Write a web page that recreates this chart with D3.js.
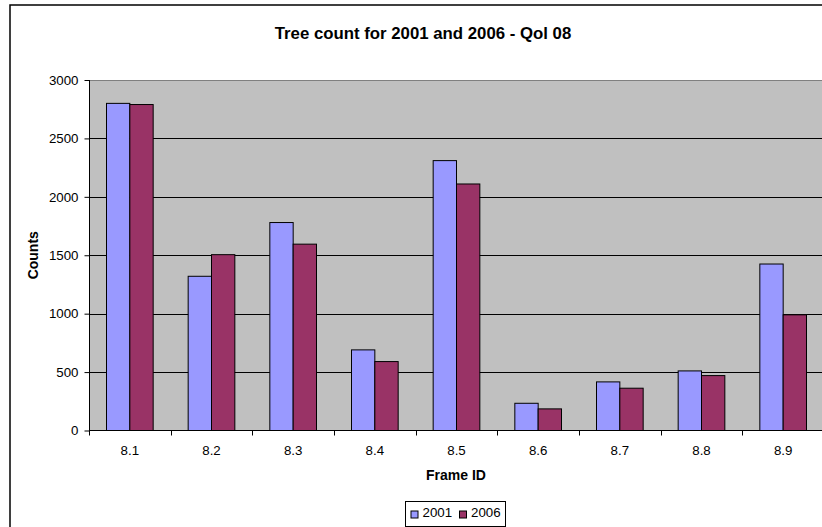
<!DOCTYPE html>
<html><head><meta charset="utf-8">
<script src="https://cdn.jsdelivr.net/npm/d3@7"></script>
<style>body{margin:0;background:#fff;}svg{display:block;font-family:"Liberation Sans",Arial,sans-serif;}</style>
</head><body>
<script>
const categories = ["8.1","8.2","8.3","8.4","8.5","8.6","8.7","8.8","8.9"];
const seriesNames = ["2001","2006"];
const values2001 = [2800,1320,1780,690,2310,233,416,510,1425];
const values2006 = [2790,1505,1595,590,2110,185,362,470,990];
const yTicks = [0,500,1000,1500,2000,2500,3000];
const colors = ["#9999FF","#993366"];

const W=822,H=527;
const svg=d3.select("body").append("svg").attr("width",W).attr("height",H);
// chart border
svg.append("rect").attr("x",10).attr("y",5).attr("width",840).attr("height",540)
  .attr("fill","#fff").attr("stroke","#000").attr("stroke-width",1.5);

const pL=89,pR=824,pT=80,pB=430.5;
const x=d3.scaleBand().domain(categories).range([pL,pR]);
const xs=d3.scaleBand().domain(seriesNames).range([0,x.bandwidth()]).paddingInner(0).paddingOuter(0.75);
const y=d3.scaleLinear().domain([0,3000]).range([pB,pT]);

svg.append("rect").attr("x",pL).attr("y",pT).attr("width",pR-pL).attr("height",pB-pT).attr("fill","#C0C0C0");
svg.append("line").attr("x1",pL).attr("x2",pR).attr("y1",pT+0.5).attr("y2",pT+0.5).attr("stroke","#808080");
svg.append("g").selectAll("line").data(yTicks.filter(d=>d>0&&d<3000)).join("line")
  .attr("x1",pL).attr("x2",pR).attr("y1",d=>Math.round(y(d))+0.5).attr("y2",d=>Math.round(y(d))+0.5)
  .attr("stroke","#000");

const data=categories.map((c,i)=>({c,vals:[values2001[i],values2006[i]]}));
const g=svg.append("g");
data.forEach(d=>{
  d.vals.forEach((v,j)=>{
    g.append("rect").attr("x",x(d.c)+xs(seriesNames[j])).attr("y",y(v))
      .attr("width",xs.bandwidth()).attr("height",y(0)-y(v))
      .attr("fill",colors[j]).attr("stroke","#000").attr("stroke-width",1);
  });
});

// y axis
const ya=svg.append("g").attr("transform",`translate(${pL+0.5},0)`)
  .call(d3.axisLeft(y).tickValues(yTicks).tickFormat(d3.format("d")).tickSize(5).tickPadding(6));
ya.select(".domain").remove();
ya.append("line").attr("y1",pT).attr("y2",pB).attr("stroke","#000");
ya.selectAll("text").attr("font-size",13.3).attr("font-family","Liberation Sans, Arial").attr("fill","#000");
ya.selectAll("line").attr("stroke","#000");

// x axis
const xa=svg.append("g").attr("transform",`translate(0,${pB})`);
xa.append("line").attr("x1",pL).attr("x2",pR).attr("stroke","#000");
const bounds=categories.map(c=>x(c)).concat([pR]);
xa.selectAll("line.t").data(bounds).join("line").attr("class","t")
  .attr("x1",d=>Math.round(d)+0.5).attr("x2",d=>Math.round(d)+0.5).attr("y1",0).attr("y2",5).attr("stroke","#000");
xa.selectAll("text").data(categories).join("text")
  .attr("x",d=>x(d)+x.bandwidth()/2).attr("y",24.5).attr("text-anchor","middle")
  .attr("font-size",13.3).text(d=>d);

svg.append("text").attr("x",423).attr("y",38.5).attr("text-anchor","middle")
  .attr("font-size",16.8).attr("font-weight","bold").text("Tree count for 2001 and 2006 - Qol 08");
svg.append("text").attr("x",456).attr("y",480).attr("text-anchor","middle")
  .attr("font-size",14).attr("font-weight","bold").text("Frame ID");
svg.append("text").attr("transform",`translate(38,${(pT+pB)/2}) rotate(-90)`).attr("text-anchor","middle")
  .attr("font-size",14).attr("font-weight","bold").text("Counts");

// legend
const lg=svg.append("g").attr("transform","translate(405.5,501.5)");
lg.append("rect").attr("width",100).attr("height",25).attr("fill","#fff").attr("stroke","#000");
const items=[{n:"2001",x:5.5},{n:"2006",x:54}];
items.forEach((it,j)=>{
  lg.append("rect").attr("x",it.x).attr("y",9.5).attr("width",7).attr("height",7).attr("fill",colors[j]).attr("stroke","#000");
  lg.append("text").attr("x",it.x+11.5).attr("y",15.5).attr("font-size",13.3).text(it.n);
});
</script>
</body></html>
